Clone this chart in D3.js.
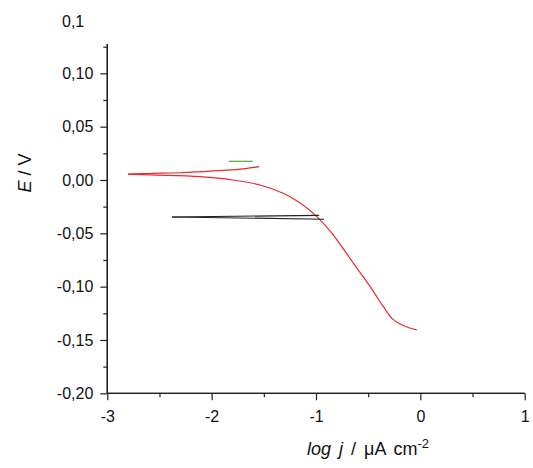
<!DOCTYPE html>
<html><head><meta charset="utf-8">
<script src="https://cdn.jsdelivr.net/npm/d3@7"></script>
<style>body{margin:0;background:#fff}svg{display:block}text{font-family:"Liberation Sans",Arial,sans-serif;fill:#111}</style>
</head><body>
<svg id="c" width="533" height="468"></svg>
<script>
const redUpper = [[-2.80,0.0055],[-2.6,0.0061],[-2.3,0.0068],[-2.1,0.0078],[-1.85,0.0092],[-1.7,0.0105],[-1.545,0.0125]];
const redLower = [[-2.80,0.0055],[-2.59,0.0047],[-2.11,0.0031],[-1.795,0.0],[-1.536,-0.0047],[-1.315,-0.0125],[-1.152,-0.0216],[-0.992,-0.0344],[-0.86,-0.0485],[-0.753,-0.0625],[-0.641,-0.0781],[-0.481,-0.100],[-0.354,-0.1188],[-0.273,-0.1297],[-0.194,-0.135],[-0.11,-0.1385],[-0.034,-0.1406]];
const green = [[-1.834,0.0175],[-1.606,0.0175]];
const blackUpper = [[-2.38,-0.0347],[-0.970,-0.0331]];
const blackLower = [[-2.38,-0.0347],[-0.922,-0.0368]];
const xTicks = [-3,-2,-1,0,1];
const xMinor = [-2.5,-1.5,-0.5,0.5];
const yTicks = [0.10,0.05,0.00,-0.05,-0.10,-0.15,-0.20];
const yMinor = [0.125,0.075,0.025,-0.025,-0.075,-0.125,-0.175];
const fmt = v => (Math.abs(v)<1e-9?"0,00":d3.format(".2f")(v).replace(".",",").replace("−","-"));

const svg = d3.select("#c");
const x = d3.scaleLinear().domain([-3,1]).range([107.3,524.7]);
const y = d3.scaleLinear().domain([-0.2,0.1275]).range([393.3,44]);

const line = d3.line().x(d=>x(d[0])).y(d=>y(d[1]));
const lineC = d3.line().x(d=>x(d[0])).y(d=>y(d[1])).curve(d3.curveCatmullRom.alpha(0.5));

// axes
const ax = svg.append("g").attr("transform",`translate(0,${y(-0.2)})`)
  .call(d3.axisBottom(x).tickValues(xTicks).tickSize(7).tickPadding(10).tickFormat(d=>String(d).replace("−","-")));
ax.append("g").call(d3.axisBottom(x).tickValues(xMinor).tickSize(4).tickFormat(""));
const ay = svg.append("g").attr("transform",`translate(${x(-3)},0)`)
  .call(d3.axisLeft(y).tickValues(yTicks).tickSize(7).tickPadding(7).tickFormat(fmt));
ay.append("g").call(d3.axisLeft(y).tickValues(yMinor).tickSize(4).tickFormat(""));
svg.selectAll(".domain").attr("stroke","#222").attr("stroke-width",1.3);
svg.selectAll(".tick line").attr("stroke","#222").attr("stroke-width",1.2);
svg.selectAll(".tick text").attr("font-size",16).attr("font-family","Liberation Sans, Arial, sans-serif").attr("fill","#111");
ay.selectAll(".domain").attr("d",`M0,${y(-0.2)}V${y(0.1275)}`);
ax.selectAll(".domain").attr("d",`M${x(-3)},0H${x(1)}`);

// data
svg.append("path").attr("d",lineC(redUpper)).attr("fill","none").attr("stroke","#e8282e").attr("stroke-width",1.2);
svg.append("path").attr("d",lineC(redLower)).attr("fill","none").attr("stroke","#e8282e").attr("stroke-width",1.2);
svg.append("path").attr("d",line(green)).attr("fill","none").attr("stroke","#5cb03a").attr("stroke-width",1.3);
svg.append("path").attr("d",line(blackUpper)).attr("fill","none").attr("stroke","#222").attr("stroke-width",1.2);
svg.append("path").attr("d",line(blackLower)).attr("fill","none").attr("stroke","#222").attr("stroke-width",1.2);

// labels
svg.append("text").attr("x",62).attr("y",27).attr("font-size",16).text("0,1");
svg.append("text").attr("transform","translate(31,173) rotate(-90)").attr("text-anchor","middle").attr("font-size",18)
  .html('<tspan font-style="italic">E</tspan> / V');
svg.append("text").attr("x",368).attr("y",455).attr("text-anchor","middle").attr("font-size",18).attr("word-spacing",3)
  .html('<tspan font-style="italic">log j</tspan> / μA cm<tspan font-size="13" dy="-7">-2</tspan>');
</script>
</body></html>
